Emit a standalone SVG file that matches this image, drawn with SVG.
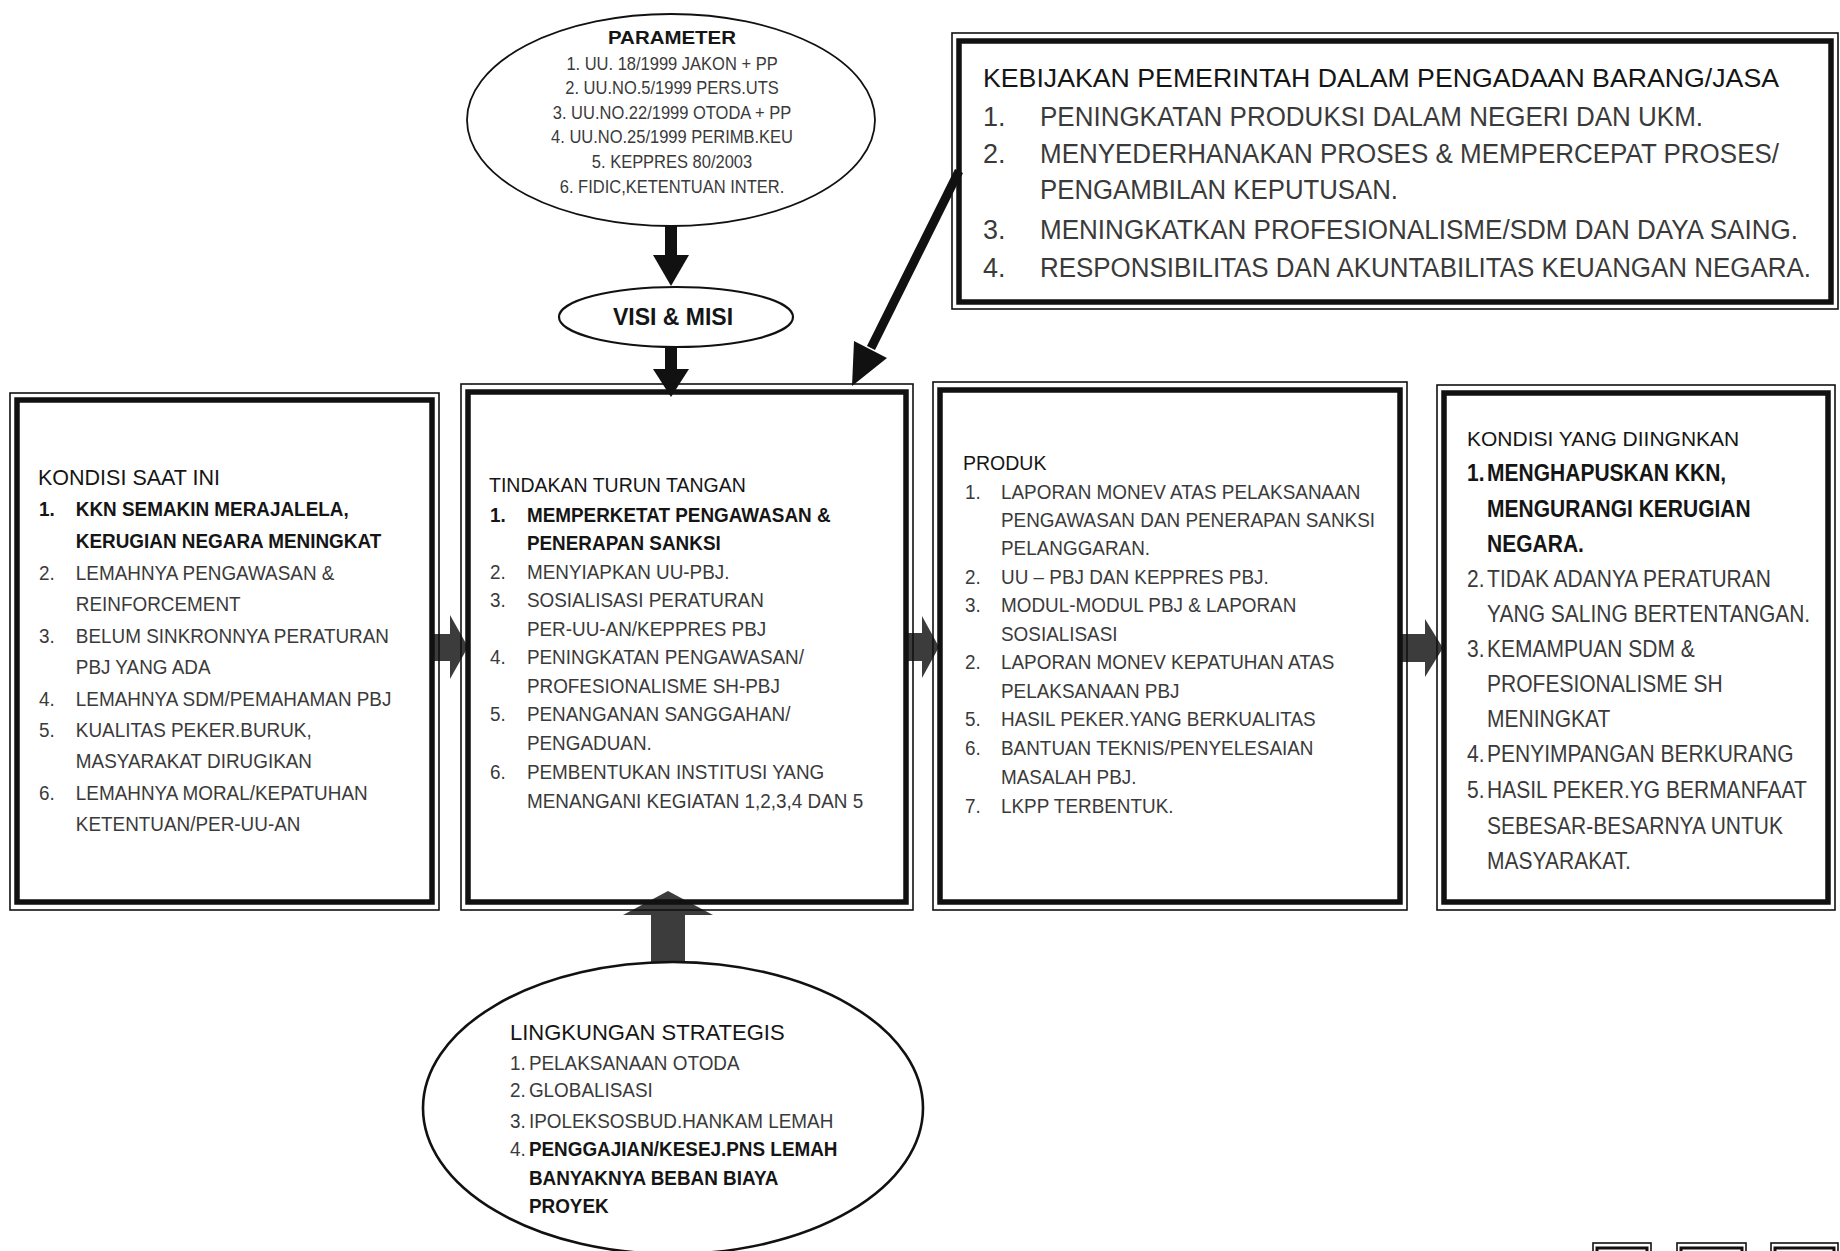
<svg xmlns="http://www.w3.org/2000/svg" width="1840" height="1251" viewBox="0 0 1840 1251">
<style>
text{font-family:"Liberation Sans",Arial,Helvetica,sans-serif}
.thin{fill:none;stroke:#111;stroke-width:1.6}
.thick{fill:none;stroke:#111;stroke-width:5.5}
.ell{fill:#fff;stroke:#111;stroke-width:2.2}
.t{fill:#151515}
.r{fill:#3a3a3a}
.b{fill:#151515;font-weight:bold}
.s21{font-size:21px}
.s23{font-size:23px}
.s27{font-size:27px}
.s18{font-size:18px}
.blk{fill:#111}
.gray{fill:#3c3c3c}
</style>
<rect x="0" y="0" width="1840" height="1251" fill="#fff"/>

<g id="connectors">
  <!-- PARAMETER to VISI -->
  <rect class="blk" x="665" y="225" width="12" height="31"/>
  <polygon class="blk" points="653,255 689,255 671,286"/>
  <!-- VISI to TINDAKAN -->
  <rect class="blk" x="665" y="346" width="12" height="24"/>
  <polygon class="blk" points="653,369 689,369 671,397"/>
  <!-- KEBIJAKAN to TINDAKAN -->
  <line x1="959" y1="171" x2="871" y2="348" stroke="#111" stroke-width="9"/>
  <polygon class="blk" points="852,386 887,358 854,341"/>
  <!-- box1 to box2 -->
  <polygon class="gray" points="432,634 450,634 450,615 468,647 450,679 450,661 432,661"/>
  <!-- box2 to box3 -->
  <polygon class="gray" points="907,633 922,633 922,616 939,647 922,678 922,661 907,661"/>
  <!-- box3 to box4 -->
  <polygon class="gray" points="1402,634 1425,634 1425,619 1443,648 1425,677 1425,662 1402,662"/>
  <!-- LINGKUNGAN to TINDAKAN -->
  <polygon class="gray" points="651,964 651,915 623,915 668,891 713,915 685,915 685,964"/>
</g>

<g id="parameter">
  <ellipse class="ell" cx="671" cy="120" rx="204" ry="106" style="stroke-width:1.8"/>
  <text class="b" x="672" y="44" text-anchor="middle" font-size="18.5" textLength="128" lengthAdjust="spacingAndGlyphs">PARAMETER</text>
  <g class="r s18" text-anchor="middle" transform="translate(672,0) scale(0.917,1)">
    <text x="0" y="70">1. UU. 18/1999 JAKON + PP</text>
    <text x="0" y="94">2. UU.NO.5/1999 PERS.UTS</text>
    <text x="0" y="119">3. UU.NO.22/1999 OTODA + PP</text>
    <text x="0" y="143">4. UU.NO.25/1999 PERIMB.KEU</text>
    <text x="0" y="168">5. KEPPRES 80/2003</text>
    <text x="0" y="193">6. FIDIC,KETENTUAN INTER.</text>
  </g>
</g>

<g id="visi-misi">
  <ellipse class="ell" cx="676" cy="317" rx="117" ry="30"/>
  <text class="b" x="673" y="325" text-anchor="middle" font-size="23">VISI &amp; MISI</text>
</g>

<g id="kebijakan">
  <rect class="thin" x="952" y="33" width="886" height="276"/>
  <rect class="thick" x="959" y="41" width="872" height="261"/>
  <text class="t" x="983" y="87" font-size="26.5" textLength="796" lengthAdjust="spacingAndGlyphs">KEBIJAKAN PEMERINTAH DALAM PENGADAAN BARANG/JASA</text>
  <g class="r s27">
    <text x="983" y="126">1.</text>
    <text x="1040" y="126" textLength="663" lengthAdjust="spacingAndGlyphs">PENINGKATAN PRODUKSI DALAM NEGERI DAN UKM.</text>
    <text x="983" y="163">2.</text>
    <text x="1040" y="163" textLength="739" lengthAdjust="spacingAndGlyphs">MENYEDERHANAKAN PROSES &amp; MEMPERCEPAT PROSES/</text>
    <text x="1040" y="199" textLength="358" lengthAdjust="spacingAndGlyphs">PENGAMBILAN KEPUTUSAN.</text>
    <text x="983" y="239">3.</text>
    <text x="1040" y="239" textLength="758" lengthAdjust="spacingAndGlyphs">MENINGKATKAN PROFESIONALISME/SDM DAN DAYA SAING.</text>
    <text x="983" y="277">4.</text>
    <text x="1040" y="277" textLength="771" lengthAdjust="spacingAndGlyphs">RESPONSIBILITAS DAN AKUNTABILITAS KEUANGAN NEGARA.</text>
  </g>
</g>

<g id="kondisi-saat-ini">
  <rect class="thin" x="10" y="393" width="429" height="517"/>
  <rect class="thick" x="17" y="400" width="415" height="502"/>
  <text class="t" x="38" y="485" font-size="21.5">KONDISI SAAT INI</text>
  <g class="s21" transform="translate(38,0) scale(0.9,1)">
    <text class="b" x="1" y="516">1.</text>
    <text class="b" x="42" y="516">KKN SEMAKIN MERAJALELA,</text>
    <text class="b" x="42" y="548">KERUGIAN NEGARA MENINGKAT</text>
    <text class="r" x="1" y="580">2.</text>
    <text class="r" x="42" y="580">LEMAHNYA PENGAWASAN &amp;</text>
    <text class="r" x="42" y="611">REINFORCEMENT</text>
    <text class="r" x="1" y="643">3.</text>
    <text class="r" x="42" y="643">BELUM SINKRONNYA PERATURAN</text>
    <text class="r" x="42" y="674">PBJ YANG ADA</text>
    <text class="r" x="1" y="706">4.</text>
    <text class="r" x="42" y="706">LEMAHNYA SDM/PEMAHAMAN PBJ</text>
    <text class="r" x="1" y="737">5.</text>
    <text class="r" x="42" y="737">KUALITAS PEKER.BURUK,</text>
    <text class="r" x="42" y="768">MASYARAKAT DIRUGIKAN</text>
    <text class="r" x="1" y="800">6.</text>
    <text class="r" x="42" y="800">LEMAHNYA MORAL/KEPATUHAN</text>
    <text class="r" x="42" y="831">KETENTUAN/PER-UU-AN</text>
  </g>
</g>

<g id="tindakan-turun-tangan">
  <rect class="thin" x="461" y="384" width="452" height="526"/>
  <rect class="thick" x="468" y="392" width="438" height="510"/>
  <text class="t" x="489" y="492" font-size="19.5">TINDAKAN TURUN TANGAN</text>
  <g class="s21" transform="translate(490,0) scale(0.9,1)">
    <text class="b" x="0" y="522">1.</text>
    <text class="b" x="41" y="522">MEMPERKETAT PENGAWASAN &amp;</text>
    <text class="b" x="41" y="550">PENERAPAN SANKSI</text>
    <text class="r" x="0" y="579">2.</text>
    <text class="r" x="41" y="579">MENYIAPKAN UU-PBJ.</text>
    <text class="r" x="0" y="607">3.</text>
    <text class="r" x="41" y="607">SOSIALISASI PERATURAN</text>
    <text class="r" x="41" y="636">PER-UU-AN/KEPPRES PBJ</text>
    <text class="r" x="0" y="664">4.</text>
    <text class="r" x="41" y="664">PENINGKATAN PENGAWASAN/</text>
    <text class="r" x="41" y="693">PROFESIONALISME SH-PBJ</text>
    <text class="r" x="0" y="721">5.</text>
    <text class="r" x="41" y="721">PENANGANAN SANGGAHAN/</text>
    <text class="r" x="41" y="750">PENGADUAN.</text>
    <text class="r" x="0" y="779">6.</text>
    <text class="r" x="41" y="779">PEMBENTUKAN INSTITUSI YANG</text>
    <text class="r" x="41" y="808">MENANGANI KEGIATAN 1,2,3,4 DAN 5</text>
  </g>
</g>

<g id="produk">
  <rect class="thin" x="933" y="382" width="474" height="528"/>
  <rect class="thick" x="940" y="390" width="460" height="512"/>
  <text class="t" x="963" y="470" font-size="19.5">PRODUK</text>
  <g class="r s21" transform="translate(965,0) scale(0.9,1)">
    <text x="0" y="499">1.</text>
    <text x="40" y="499">LAPORAN MONEV ATAS PELAKSANAAN</text>
    <text x="40" y="527">PENGAWASAN DAN PENERAPAN SANKSI</text>
    <text x="40" y="555">PELANGGARAN.</text>
    <text x="0" y="584">2.</text>
    <text x="40" y="584">UU – PBJ DAN KEPPRES PBJ.</text>
    <text x="0" y="612">3.</text>
    <text x="40" y="612">MODUL-MODUL PBJ &amp; LAPORAN</text>
    <text x="40" y="641">SOSIALISASI</text>
    <text x="0" y="669">2.</text>
    <text x="40" y="669">LAPORAN MONEV KEPATUHAN ATAS</text>
    <text x="40" y="698">PELAKSANAAN PBJ</text>
    <text x="0" y="726">5.</text>
    <text x="40" y="726">HASIL PEKER.YANG BERKUALITAS</text>
    <text x="0" y="755">6.</text>
    <text x="40" y="755">BANTUAN TEKNIS/PENYELESAIAN</text>
    <text x="40" y="784">MASALAH PBJ.</text>
    <text x="0" y="813">7.</text>
    <text x="40" y="813">LKPP TERBENTUK.</text>
  </g>
</g>

<g id="kondisi-yang-diinginkan">
  <rect class="thin" x="1437" y="385" width="398" height="525"/>
  <rect class="thick" x="1444" y="393" width="384" height="509"/>
  <text class="t" x="1467" y="446" font-size="21">KONDISI YANG DIINGNKAN</text>
  <g class="s23" transform="translate(1467,0) scale(0.913,1)">
    <text class="b" x="0" y="481">1.</text>
    <text class="b" x="22" y="481">MENGHAPUSKAN KKN,</text>
    <text class="b" x="22" y="517">MENGURANGI KERUGIAN</text>
    <text class="b" x="22" y="552">NEGARA.</text>
    <text class="r" x="0" y="587">2.</text>
    <text class="r" x="22" y="587">TIDAK ADANYA PERATURAN</text>
    <text class="r" x="22" y="622">YANG SALING BERTENTANGAN.</text>
    <text class="r" x="0" y="657">3.</text>
    <text class="r" x="22" y="657">KEMAMPUAN SDM &amp;</text>
    <text class="r" x="22" y="692">PROFESIONALISME SH</text>
    <text class="r" x="22" y="727">MENINGKAT</text>
    <text class="r" x="0" y="762">4.</text>
    <text class="r" x="22" y="762">PENYIMPANGAN BERKURANG</text>
    <text class="r" x="0" y="798">5.</text>
    <text class="r" x="22" y="798">HASIL PEKER.YG BERMANFAAT</text>
    <text class="r" x="22" y="834">SEBESAR-BESARNYA UNTUK</text>
    <text class="r" x="22" y="869">MASYARAKAT.</text>
  </g>
</g>

<g id="lingkungan-strategis">
  <ellipse class="ell" cx="673" cy="1108" rx="250" ry="146" style="stroke-width:2.6"/>
  <text class="t" x="510" y="1040" font-size="22">LINGKUNGAN STRATEGIS</text>
  <g class="s21" transform="translate(510,0) scale(0.9,1)">
    <text class="r" x="0" y="1070">1.</text>
    <text class="r" x="21" y="1070">PELAKSANAAN OTODA</text>
    <text class="r" x="0" y="1097">2.</text>
    <text class="r" x="21" y="1097">GLOBALISASI</text>
    <text class="r" x="0" y="1128">3.</text>
    <text class="r" x="21" y="1128">IPOLEKSOSBUD.HANKAM LEMAH</text>
    <text class="r" x="0" y="1156">4.</text>
    <text class="b" x="21" y="1156">PENGGAJIAN/KESEJ.PNS LEMAH</text>
    <text class="b" x="21" y="1185">BANYAKNYA BEBAN BIAYA</text>
    <text class="b" x="21" y="1213">PROYEK</text>
  </g>
</g>

<g id="mini-boxes">
  <rect class="thin" x="1593" y="1243" width="58" height="30"/>
  <rect class="thick" x="1597" y="1248" width="50" height="30" style="stroke-width:3"/>
  <rect class="thin" x="1677" y="1243" width="69" height="30"/>
  <rect class="thick" x="1681" y="1248" width="61" height="30" style="stroke-width:3"/>
  <rect class="thin" x="1771" y="1243" width="67" height="30"/>
  <rect class="thick" x="1775" y="1248" width="59" height="30" style="stroke-width:3"/>
</g>
</svg>
